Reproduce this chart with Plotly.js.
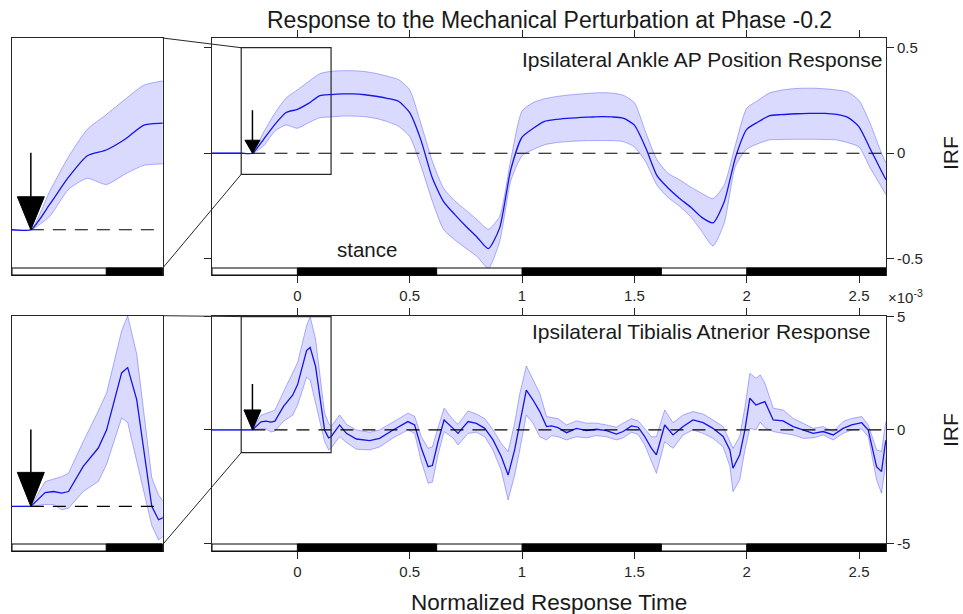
<!DOCTYPE html>
<html><head><meta charset="utf-8">
<script src="https://cdn.plot.ly/plotly-3.0.1.min.js"></script>
<style>html,body{margin:0;padding:0;background:#fff}#chart{width:963px;height:614px}</style>
</head><body><div id="chart"></div>
<script>
// ---------- data ----------
const apX = [-0.38,-0.3,-0.25,-0.2,-0.15,-0.1,-0.05,0,0.05,0.1,0.15,0.2,0.25,0.3,0.35,0.4,0.45,0.5,0.55,0.6,0.65,0.7,0.75,0.8,0.85,0.9,0.95,1.0,1.05,1.1,1.15,1.2,1.25,1.3,1.35,1.4,1.45,1.5,1.55,1.6,1.65,1.7,1.75,1.8,1.85,1.9,1.95,2.0,2.05,2.1,2.15,2.2,2.25,2.3,2.35,2.4,2.45,2.5,2.55,2.6,2.62];
const apMean = [0,0,0,0,0.066,0.137,0.193,0.208,0.236,0.273,0.278,0.281,0.281,0.277,0.270,0.260,0.246,0.192,0.062,-0.115,-0.228,-0.290,-0.346,-0.398,-0.452,-0.355,-0.077,0.076,0.118,0.151,0.160,0.165,0.169,0.171,0.173,0.172,0.166,0.133,0.027,-0.105,-0.165,-0.213,-0.255,-0.304,-0.330,-0.230,-0.020,0.113,0.148,0.177,0.183,0.186,0.188,0.189,0.189,0.184,0.170,0.125,0.020,-0.085,-0.126];
const apUpper = [0,0,0,0,0.10,0.19,0.262,0.30,0.34,0.377,0.388,0.391,0.391,0.387,0.378,0.365,0.349,0.300,0.14,-0.035,-0.165,-0.225,-0.27,-0.315,-0.36,-0.30,-0.03,0.20,0.24,0.258,0.268,0.275,0.280,0.284,0.287,0.285,0.275,0.24,0.10,-0.03,-0.095,-0.125,-0.16,-0.19,-0.215,-0.15,0.04,0.213,0.25,0.285,0.298,0.305,0.308,0.308,0.305,0.30,0.29,0.25,0.14,0.0,-0.047];
const apLower = [0,0,0,0,0.035,0.105,0.134,0.118,0.145,0.168,0.172,0.176,0.176,0.173,0.165,0.150,0.128,0.079,-0.06,-0.225,-0.36,-0.41,-0.45,-0.49,-0.545,-0.42,-0.13,-0.012,0.018,0.040,0.050,0.055,0.058,0.060,0.060,0.060,0.055,0.030,-0.04,-0.15,-0.21,-0.25,-0.30,-0.37,-0.44,-0.33,-0.06,0.02,0.045,0.063,0.065,0.066,0.066,0.066,0.065,0.063,0.05,0.03,-0.07,-0.16,-0.197];

// Tibialis anterior IRF, in units of 1e-3
const taX = [-0.38,-0.2,-0.162,-0.14,-0.118,-0.1,-0.061,-0.021,0.001,0.041,0.057,0.081,0.121,0.139,0.15,0.188,0.218,0.263,0.322,0.366,0.426,0.492,0.522,0.552,0.582,0.601,0.626,0.653,0.693,0.715,0.76,0.797,0.834,0.871,0.908,0.938,0.967,0.99,1.019,1.049,1.079,1.109,1.131,1.16,1.198,1.242,1.287,1.331,1.376,1.42,1.45,1.487,1.517,1.546,1.576,1.598,1.635,1.672,1.717,1.761,1.806,1.85,1.895,1.925,1.939,1.969,1.992,2.014,2.041,2.06,2.081,2.118,2.162,2.207,2.251,2.296,2.34,2.385,2.429,2.467,2.512,2.541,2.578,2.6,2.615,2.62];
const taMean = [0,0,0.36,0.39,0.35,0.39,1.05,1.53,2.0,3.5,3.64,2.8,0,-0.35,-0.3,0.22,-0.15,-0.4,-0.47,-0.37,0,0.37,0.22,-0.81,-1.62,-1.57,-0.52,0.44,0.07,-0.15,0.37,0.29,0.07,-0.44,-1.18,-1.99,-0.88,0.29,1.76,1.32,0.81,0.15,0.18,0.1,-0.12,0.07,-0.03,0.03,-0.03,-0.18,-0.07,0.18,0.12,-0.29,-0.81,-1.1,0.22,-0.22,0.15,0.44,0.32,0.07,-0.29,-0.88,-1.69,-1.1,0,1.4,1.1,1.17,1.25,0.44,0.4,0.15,0,-0.15,-0.07,-0.22,0.07,0.22,0.32,0,-1.62,-1.84,-0.74,-0.45];
const taUpper = [0,0,0.65,0.72,0.78,0.87,1.7,2.5,2.97,4.6,5.0,4.0,0.75,0.3,0.15,0.66,0.25,0.0,-0.1,0.0,0.35,0.74,0.6,-0.3,-0.81,-0.75,0.1,0.96,0.45,0.25,0.84,0.7,0.5,0.0,-0.6,-0.96,0.3,1.6,2.82,2.2,1.62,0.59,0.55,0.5,0.22,0.4,0.3,0.3,0.22,0.12,0.3,0.5,0.4,0.07,-0.3,-0.3,0.88,0.32,0.66,0.81,0.7,0.44,0.15,-0.5,-0.81,-0.29,1.0,2.5,2.28,2.43,2.06,0.96,0.88,0.51,0.3,0.07,0.15,-0.07,0.37,0.51,0.59,0.22,-0.88,-0.95,0.1,0.37];
const taLower = [0,0,0.05,0.05,-0.09,-0.05,0.39,0.65,1.1,2.32,2.2,1.2,-0.5,-0.88,-0.8,-0.29,-0.55,-0.85,-0.88,-0.75,-0.35,0.0,-0.15,-1.4,-2.35,-2.3,-1.1,-0.07,-0.35,-0.66,-0.15,-0.1,-0.3,-0.9,-1.8,-3.09,-2.0,-0.88,0.66,0.3,-0.3,-0.44,-0.25,-0.3,-0.44,-0.3,-0.35,-0.25,-0.3,-0.44,-0.35,-0.1,-0.2,-0.66,-1.4,-1.91,-0.52,-0.81,-0.22,0.0,-0.15,-0.37,-0.74,-1.6,-2.72,-2.2,-0.88,0.07,0.0,0.35,0.1,-0.07,-0.15,-0.22,-0.37,-0.35,-0.22,-0.44,-0.15,0.0,0.04,-0.29,-2.2,-2.79,-1.76,-1.2];

const stanceStart = [0, 1, 2];
const stanceEnd = [0.62, 1.62, 2.62];
const perturbPhase = -0.2;
const xTickVals = [0, 0.5, 1, 1.5, 2, 2.5];
const xTickText = ['0', '0.5', '1', '1.5', '2', '2.5'];
const apTickVals = [-0.5, 0, 0.5];
const apTickText = ['-0.5', '0', '0.5'];
const taTickVals = [-5, 0, 5];
const taTickText = ['-5', '0', '5'];
const zoomX = [-0.25, 0.15];
const apZoomY = [-0.1, 0.5];
const taZoomY = [-1, 5];

// ---------- layout geometry ----------
const W = 963, H = 614;
const FONT = 'Liberation Sans, Arial, Helvetica, sans-serif';
const INK = '#262626';
const mainDom = [212 / W, 886 / W];
const insetDom = [12 / W, 162.7 / W];
const topDom = [1 - 275 / H, 1 - 38 / H];
const botDom = [1 - 551 / H, 1 - 315.7 / H];
const mainXR = [-0.38, 2.62];
const insetXR = zoomX.slice();
const apMainYR = [-0.577, 0.546];
const apInsetYR = [-0.118, 0.5];
const taMainYR = [-5.34, 5.04];
const taInsetYR = [-1.17, 5.0];

function toPaper(v, range, dom) { return dom[0] + (v - range[0]) / (range[1] - range[0]) * (dom[1] - dom[0]); }

const BAND_LINE = 'rgba(70,70,255,0.42)';
const BAND_FILL = 'rgba(50,50,255,0.18)';
const MEAN_COL = 'rgb(20,20,235)';

function bandTraces(x, lo, hi, mean, xa, ya, shape) {
  const ln = {color: BAND_LINE, width: 1, shape: shape, smoothing: 0.6};
  return [
    {x: x, y: lo, xaxis: xa, yaxis: ya, mode: 'lines', line: ln, hoverinfo: 'skip', showlegend: false},
    {x: x, y: hi, xaxis: xa, yaxis: ya, mode: 'lines', line: ln, fill: 'tonexty', fillcolor: BAND_FILL, hoverinfo: 'skip', showlegend: false},
    {x: x, y: mean, xaxis: xa, yaxis: ya, mode: 'lines', line: {color: MEAN_COL, width: 1.3, shape: shape, smoothing: 0.6}, showlegend: false}
  ];
}

const data = [].concat(
  bandTraces(apX, apLower, apUpper, apMean, 'x', 'y', 'spline'),
  bandTraces(apX, apLower, apUpper, apMean, 'x2', 'y2', 'spline'),
  bandTraces(taX, taLower, taUpper, taMean, 'x3', 'y3', 'linear'),
  bandTraces(taX, taLower, taUpper, taMean, 'x4', 'y4', 'linear')
);

function xAxis(dom, range, anchor, labels) {
  return {domain: dom, range: range, anchor: anchor, showgrid: false, zeroline: false,
    showline: true, linecolor: INK, linewidth: 1, mirror: labels ? 'ticks' : true,
    ticks: labels ? 'outside' : '', ticklen: 7, tickcolor: INK, tickwidth: 1,
    tickmode: 'array', tickvals: labels ? xTickVals : [], ticktext: labels ? xTickText : [],
    showticklabels: labels, tickfont: {family: FONT, size: 15, color: INK}, fixedrange: true};
}
function yAxis(dom, range, anchor, labels, tv, tt) {
  return {domain: dom, range: range, anchor: anchor, side: 'right', showgrid: false, zeroline: false,
    showline: true, linecolor: INK, linewidth: 1, mirror: labels ? 'ticks' : true,
    ticks: labels ? 'outside' : '', ticklen: 7, tickcolor: INK, tickwidth: 1,
    tickmode: 'array', tickvals: labels ? tv : [], ticktext: labels ? tt : [],
    showticklabels: labels, tickfont: {family: FONT, size: 15, color: INK}, fixedrange: true};
}

const shapes = [];
// phase bars (white = swing, black = stance)
function phaseBar(xref, yref, range, barFrac) {
  shapes.push({type: 'rect', xref: xref, yref: yref + ' domain', x0: range[0], x1: range[1], y0: 0, y1: barFrac,
    fillcolor: '#ffffff', line: {color: '#000', width: 1}, layer: 'above'});
  for (let i = 0; i < stanceStart.length; i++) {
    const a = Math.max(stanceStart[i], range[0]);
    const b = Math.min(stanceEnd[i], range[1]);
    if (b > a) shapes.push({type: 'rect', xref: xref, yref: yref + ' domain', x0: a, x1: b, y0: 0, y1: barFrac,
      fillcolor: '#000000', line: {color: '#000', width: 1}, layer: 'above'});
  }
}
phaseBar('x', 'y', mainXR, 7 / 237);
phaseBar('x2', 'y2', insetXR, 7 / 237);
phaseBar('x3', 'y3', mainXR, 7 / 235.3);
phaseBar('x4', 'y4', insetXR, 7 / 235.3);

// zero dashed lines
[['x', 'y', mainXR], ['x2', 'y2', insetXR], ['x3', 'y3', mainXR], ['x4', 'y4', insetXR]].forEach(function (a) {
  shapes.push({type: 'line', xref: a[0], yref: a[1], x0: Math.max(perturbPhase, a[2][0]), x1: a[2][1], y0: 0, y1: 0,
    line: {color: '#000', width: 1.2, dash: '13px,9px'}, layer: 'above'});
});

// zoom rectangles
shapes.push({type: 'rect', xref: 'x', yref: 'y', x0: zoomX[0], x1: zoomX[1], y0: apZoomY[0], y1: apZoomY[1], line: {color: INK, width: 1.2}, layer: 'above'});
shapes.push({type: 'rect', xref: 'x3', yref: 'y3', x0: zoomX[0], x1: zoomX[1], y0: taZoomY[0], y1: taZoomY[1], line: {color: INK, width: 1.2}, layer: 'above'});

// connectors inset -> zoom box
function connector(yInset, insetYR, mainYR, dom) {
  shapes.push({type: 'line', xref: 'paper', yref: 'paper',
    x0: toPaper(zoomX[1], insetXR, insetDom), y0: toPaper(yInset, insetYR, dom),
    x1: toPaper(zoomX[0], mainXR, mainDom), y1: toPaper(yInset, mainYR, dom),
    line: {color: INK, width: 1}});
}
connector(apZoomY[1], apInsetYR, apMainYR, topDom);
connector(apZoomY[0], apInsetYR, apMainYR, topDom);
connector(taZoomY[1], taInsetYR, taMainYR, botDom);
connector(taZoomY[0], taInsetYR, taMainYR, botDom);

// perturbation arrows (pixel sized, anchored at the perturbation point)
function arrow(xref, yref, total, headLen, headW) {
  shapes.push({type: 'path', xref: xref, yref: yref, xsizemode: 'pixel', ysizemode: 'pixel',
    xanchor: perturbPhase, yanchor: 0, path: 'M0,' + headLen + ' L0,' + total,
    line: {color: '#000', width: 1.5}, layer: 'above'});
  shapes.push({type: 'path', xref: xref, yref: yref, xsizemode: 'pixel', ysizemode: 'pixel',
    xanchor: perturbPhase, yanchor: 0,
    path: 'M0,0 L' + (-headW / 2) + ',' + headLen + ' L' + (headW / 2) + ',' + headLen + ' Z',
    fillcolor: '#000', line: {color: '#000', width: 1}, layer: 'above'});
}
arrow('x', 'y', 43, 13, 15);
arrow('x2', 'y2', 77, 33, 27);
arrow('x3', 'y3', 46, 20, 17);
arrow('x4', 'y4', 77, 34, 27);

function ann(text, px, py, size, opts) {
  return Object.assign({text: text, xref: 'paper', yref: 'paper', x: px / W, y: 1 - py / H,
    xanchor: 'center', yanchor: 'middle', showarrow: false, borderpad: 0,
    font: {family: FONT, size: size, color: '#1a1a1a'}}, opts || {});
}
const annotations = [
  ann('Response to the Mechanical Perturbation at Phase -0.2', 549, 20, 23),
  ann('Ipsilateral Ankle AP Position Response', 701.7, 59, 21),
  ann('Ipsilateral Tibialis Atnerior Response', 701.7, 331, 21),
  ann('stance', 366.7, 250, 20.5),
  ann('IRF', 950, 153, 21, {textangle: -90}),
  ann('IRF', 950, 430, 21, {textangle: -90}),
  ann('Normalized Response Time', 549, 602, 22.5),
  ann('\u00d710<sup>-3</sup>', 887, 296, 15, {xanchor: 'left', font: {family: FONT, size: 15, color: INK}})
];

const layout = {
  width: W, height: H, autosize: false,
  margin: {l: 0, r: 0, t: 0, b: 0, pad: 0},
  paper_bgcolor: '#fff', plot_bgcolor: 'rgba(0,0,0,0)',
  showlegend: false,
  xaxis: xAxis(mainDom, mainXR, 'y', true),
  yaxis: yAxis(topDom, apMainYR, 'x', true, apTickVals, apTickText),
  xaxis2: xAxis(insetDom, insetXR, 'y2', false),
  yaxis2: yAxis(topDom, apInsetYR, 'x2', false),
  xaxis3: xAxis(mainDom, mainXR, 'y3', true),
  yaxis3: yAxis(botDom, taMainYR, 'x3', true, taTickVals, taTickText),
  xaxis4: xAxis(insetDom, insetXR, 'y4', false),
  yaxis4: yAxis(botDom, taInsetYR, 'x4', false),
  shapes: shapes,
  annotations: annotations
};

Plotly.newPlot('chart', data, layout, {displayModeBar: false, staticPlot: true});
</script>
</body></html>
